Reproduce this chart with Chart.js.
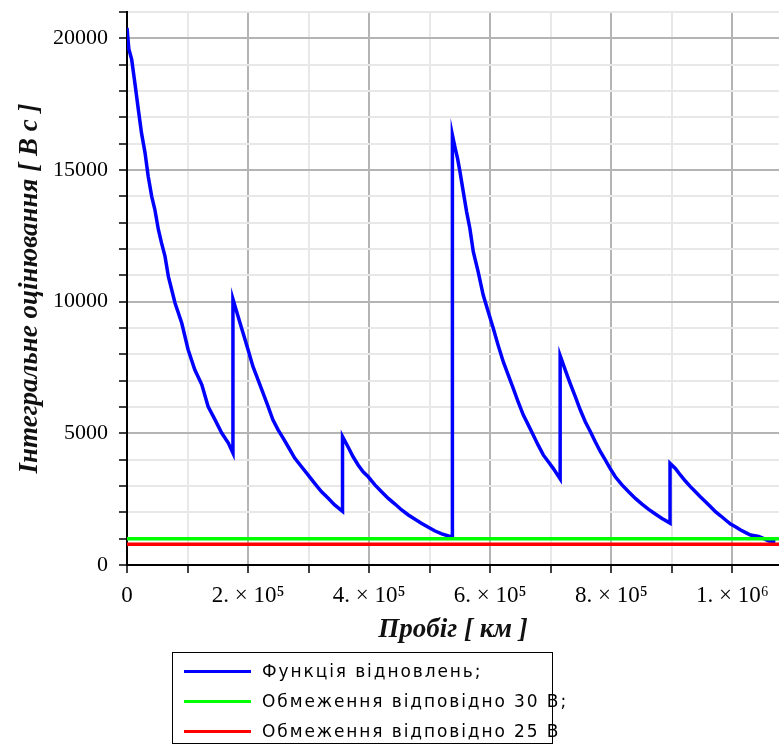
<!DOCTYPE html>
<html>
<head>
<meta charset="utf-8">
<script src="https://cdn.jsdelivr.net/npm/chart.js@4.4.1/dist/chart.umd.min.js"></script>
<style>
    body { margin: 0; background: #fff; }
    #wrap { position: relative; width: 779px; height: 749px; }
    #legend {
        position: absolute; left: 172px; top: 652px; width: 381px; height: 92px;
        border: 1.5px solid #000; box-sizing: border-box; padding-top: 3px;
        font: 17px "DejaVu Sans"; letter-spacing: 1.9px; color: #000;
    }
    .item { display: flex; align-items: center; height: 30px; white-space: nowrap; }
    .swatch { width: 67px; height: 3px; margin-left: 11px; margin-right: 11px; flex: none; }
</style>
</head>
<body>
<div id="wrap">
    <canvas id="chart" width="779" height="749"></canvas>
    <div id="legend"></div>
</div>
<script>
// Values
const mileageKm = [
    0, 3000, 7700, 13000, 18700, 24000, 29800, 35000, 40800, 46000, 51800, 57000, 62800, 68300,
    79300, 90400, 101000, 112000, 123500, 134000, 145500, 156500, 167400, 175000,
    175000, 183500, 191700, 200000, 208000, 216500, 224800, 233000, 241000, 249600, 257900,
    266000, 277000, 288000, 299000, 310000, 321000, 332000, 343000, 356000,
    356000, 365000, 373500, 381800, 390000, 398500, 409500, 420500, 431600, 442700, 453700,
    464700, 475800, 486800, 497800, 508900, 520000, 531000, 537500,
    537500, 541600, 546000, 550000, 555500, 561000, 566400, 572000, 580000, 588400, 596700,
    605000, 613000, 621500, 629800, 638000, 646000, 654500, 662800, 671000, 679000, 687600,
    696000, 704000, 715500,
    715500, 724000, 732000, 740500, 748800, 757000, 765500, 773500, 782000, 790000, 798000,
    806600, 817600, 828600, 839700, 850700, 861700, 872700, 883800, 897000,
    897000, 905800, 914000, 922300, 930600, 939000, 947000, 955600, 964000, 972000, 980500,
    988800, 997000, 1005000, 1013600, 1022000, 1030000, 1043500, 1052000, 1060000, 1071000
];
const integralVs = [
    20400, 19600, 19200, 18300, 17300, 16400, 15650, 14760, 14000, 13500, 12740, 12230, 11720, 10960,
    9950, 9190, 8175, 7410, 6850, 6020, 5510, 5010, 4630, 4250,
    10100, 9440, 8810, 8175, 7540, 7030, 6530, 6020, 5510, 5130, 4820,
    4500, 4060, 3740, 3420, 3100, 2790, 2540, 2280, 2040,
    4880, 4490, 4110, 3800, 3540, 3350, 3040, 2780, 2530, 2315, 2090,
    1900, 1735, 1580, 1430, 1290, 1180, 1100, 1075,
    16330, 15880, 15440, 14940, 14170, 13410, 12780, 11900, 11140, 10250, 9620,
    8990, 8350, 7720, 7210, 6710, 6200, 5700, 5320, 4940, 4560, 4180,
    3920, 3670, 3270,
    7950, 7400, 6900, 6390, 5885, 5440, 5060, 4680, 4300, 3990, 3670,
    3350, 3040, 2780, 2530, 2315, 2115, 1935, 1770, 1590,
    3860, 3670, 3420, 3190, 2975, 2780, 2590, 2405, 2215, 2025, 1870,
    1710, 1555, 1455, 1330, 1230, 1140, 1080, 1000, 910, 890
];
const limit30 = 1000;
const limit25 = 790;
const xMaxKm = 1077000;
const yMax = 21000;

// x ticks / grid every 100 000 km, labels on every second one
const xGridKm = [0, 100000, 200000, 300000, 400000, 500000, 600000, 700000, 800000, 900000, 1000000];
const xTickValues = [0, 200000, 400000, 600000, 800000, 1000000];
const xTickLabels = ["0", "2. × 10⁵", "4. × 10⁵", "6. × 10⁵", "8. × 10⁵", "1. × 10⁶"];
const yTickValues = [0, 5000, 10000, 15000, 20000];
const yTickLabels = ["0", "5000", "10000", "15000", "20000"];

const seriesNames = ["Функція відновлень;", "Обмеження відповідно 30 В;", "Обмеження відповідно 25 В"];
const seriesColors = ["#0000ff", "#00ff00", "#ff0000"];

const tickFont = { family: "'Liberation Serif', serif", size: 22 };
const titleFont = { family: "'Liberation Serif', serif", size: 27, weight: "bold", style: "italic" };

function gridColor(major) {
    return (ctx) => (ctx.tick && Math.round(ctx.tick.value) % major === 0) ? "#b4b4b4" : "#e8e8e8";
}

function tickLabel(values, labels) {
    return (v) => {
        const i = values.indexOf(Math.round(v));
        return i < 0 ? "" : labels[i];
    };
}

const chart = new Chart(document.getElementById("chart"), {
    type: "line",
    data: {
        datasets: [
            {
                label: seriesNames[0],
                data: mileageKm.map((x, i) => ({ x: x, y: integralVs[i] })),
                borderColor: seriesColors[0], borderWidth: 3.5, order: 3
            },
            {
                label: seriesNames[1],
                data: [{ x: 0, y: limit30 }, { x: xMaxKm, y: limit30 }],
                borderColor: seriesColors[1], borderWidth: 3.5, order: 1
            },
            {
                label: seriesNames[2],
                data: [{ x: 0, y: limit25 }, { x: xMaxKm, y: limit25 }],
                borderColor: seriesColors[2], borderWidth: 3.5, order: 2
            }
        ]
    },
    options: {
        responsive: false,
        animation: false,
        layout: { padding: { top: 12, right: 0, bottom: 100, left: 0 } },
        elements: { point: { radius: 0 }, line: { tension: 0 } },
        plugins: { legend: { display: false }, tooltip: { enabled: false } },
        scales: {
            x: {
                type: "linear", min: 0, max: xMaxKm,
                afterBuildTicks: (scale) => {
                    scale.ticks = xGridKm.map((v) => ({ value: v }));
                },
                afterFit: (scale) => {
                    scale.height = 84;
                    scale.paddingLeft = 0;
                    scale.paddingRight = 0;
                },
                border: { color: "#000", width: 2 },
                grid: { color: gridColor(200000), lineWidth: 2, tickColor: "#000", tickWidth: 1.5, tickLength: 8 },
                ticks: {
                    autoSkip: false, maxRotation: 0,
                    padding: 9, color: "#000", font: { family: "'Liberation Serif', serif", size: 23 },
                    callback: tickLabel(xTickValues, xTickLabels)
                },
                title: { display: true, text: "Пробіг [ км ]", color: "#111", font: titleFont, padding: { top: 0, bottom: 3 } }
            },
            y: {
                type: "linear", min: 0, max: yMax,
                afterFit: (scale) => {
                    scale.width = 127;
                    scale.paddingTop = 0;
                    scale.paddingBottom = 0;
                },
                border: { color: "#000", width: 2 },
                grid: { color: gridColor(5000), lineWidth: 2, tickColor: "#000", tickWidth: 1.5, tickLength: 8 },
                ticks: {
                    stepSize: 1000, includeBounds: false, autoSkip: false,
                    padding: 11, color: "#000", font: tickFont,
                    callback: tickLabel(yTickValues, yTickLabels)
                },
                title: { display: true, text: "Інтегральне оцінювання [ В с ]", color: "#111", font: titleFont, padding: { top: 14, bottom: 0 } }
            }
        }
    }
});

// HTML legend, built from the chart's datasets
const legend = document.getElementById("legend");
chart.data.datasets.forEach((ds) => {
    const row = document.createElement("div");
    row.className = "item";
    const sw = document.createElement("span");
    sw.className = "swatch";
    sw.style.background = ds.borderColor;
    const txt = document.createElement("span");
    txt.textContent = ds.label;
    row.appendChild(sw);
    row.appendChild(txt);
    legend.appendChild(row);
});
</script>
</body>
</html>
